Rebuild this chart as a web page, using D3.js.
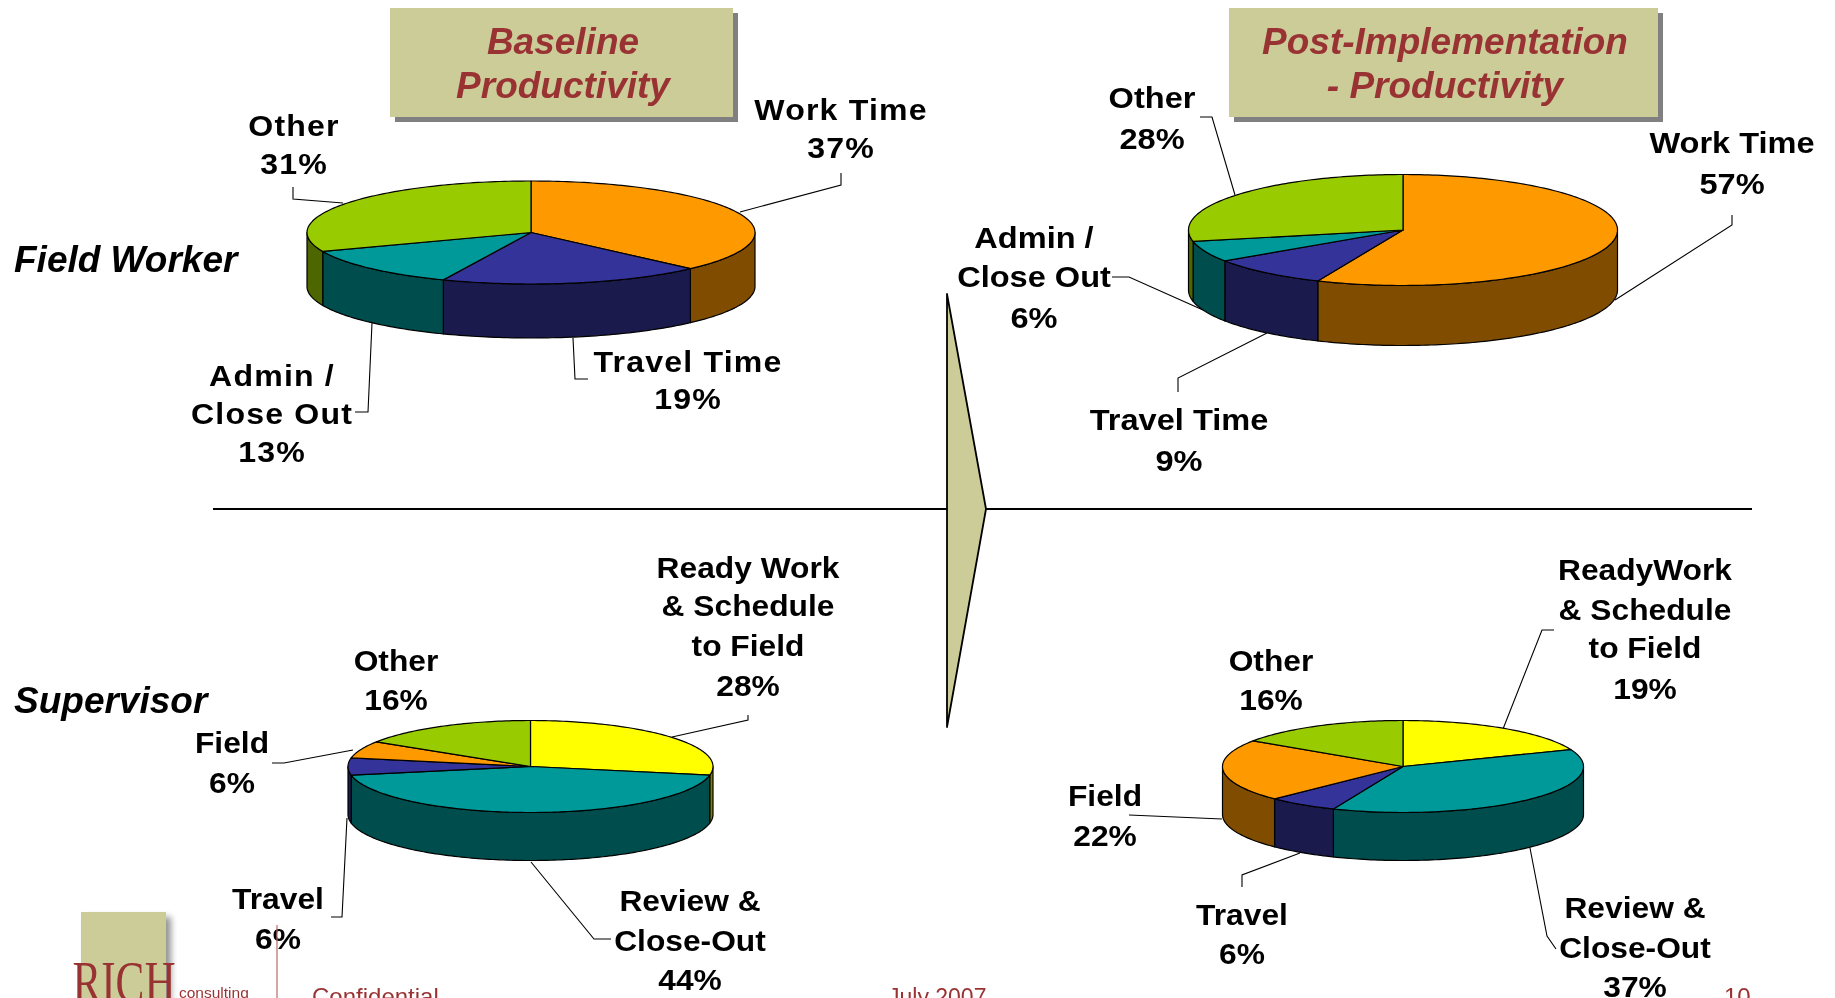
<!DOCTYPE html>
<html><head><meta charset="utf-8">
<script src="https://cdn.jsdelivr.net/npm/d3@7"></script>
<style>html,body{margin:0;padding:0;background:#fff;overflow:hidden}svg{display:block;filter:blur(0.45px)}</style>
</head><body><div id="chart"></div>
<script>
// ---- data ----
const fieldCats = ["Work Time","Travel Time","Admin / Close Out","Other"];
const fieldBaseline = [37.4,19,12.6,31];
const fieldPost = [56.5,9.1,6.1,28.3];
const supCats = ["Ready Work & Schedule to Field","Review & Close-Out","Travel","Field","Other"];
const supBaseline = [28,44,6,6,16];
const supPost = [19,37.3,6.3,21.8,15.6];
const fieldColors = ["#FF9900","#333399","#009999","#99CC00"];
const supColors = ["#FFFF00","#009999","#333399","#FF9900","#99CC00"];
const titleLeft = ["Baseline","Productivity"];
const titleRight = ["Post-Implementation","- Productivity"];
const rowLabels = ["Field Worker","Supervisor"];
const footerTexts = ["Confidential","July 2007","10"];

// ---- layout ----
const W=1835,H=998;
const pies=[
 {vals:fieldBaseline,colors:fieldColors,cx:531,cy:232.5,rx:224,ry:51.5,d:54},
 {vals:fieldPost,colors:fieldColors,cx:1403,cy:230,rx:214.5,ry:55.5,d:60},
 {vals:supBaseline,colors:supColors,cx:530.5,cy:766.5,rx:182.5,ry:46,d:48},
 {vals:supPost,colors:supColors,cx:1403,cy:766.5,rx:180.5,ry:46,d:48}
];
const styleA={f:30,s:1.07,ls:1.1},styleB={f:30,s:1.085,ls:0},styleC={f:29,s:1.095,ls:0};
const labels=[
 {l:["Work Time","37%"],x:841,y:[110,148],k:styleA},
 {l:["Other","31%"],x:294,y:[126,164],k:styleA},
 {l:["Admin /","Close Out","13%"],x:272,y:[376,414,452],k:styleA},
 {l:["Travel Time","19%"],x:688,y:[362,399],k:styleA},
 {l:["Work Time","57%"],x:1732,y:[143,184],k:styleB},
 {l:["Other","28%"],x:1152,y:[98,139],k:styleB},
 {l:["Admin /","Close Out","6%"],x:1034,y:[238,277,318],k:styleB},
 {l:["Travel Time","9%"],x:1179,y:[420,461],k:styleB},
 {l:["Ready Work","& Schedule","to Field","28%"],x:748,y:[568,606,646,686],k:styleC},
 {l:["Other","16%"],x:396,y:[661,700],k:styleC},
 {l:["Field","6%"],x:232,y:[743,783],k:styleC},
 {l:["Travel","6%"],x:278,y:[899,939],k:styleC},
 {l:["Review &","Close-Out","44%"],x:690,y:[901,941,980],k:styleC},
 {l:["ReadyWork","& Schedule","to Field","19%"],x:1645,y:[570,610,648,689],k:styleC},
 {l:["Other","16%"],x:1271,y:[661,700],k:styleC},
 {l:["Field","22%"],x:1105,y:[796,836],k:styleC},
 {l:["Travel","6%"],x:1242,y:[915,954],k:styleC},
 {l:["Review &","Close-Out","37%"],x:1635,y:[908,948,987],k:styleC}
];
const leaders=[
 [[740,212],[841,185],[841,173]],
 [[343,203],[293,199],[293,187]],
 [[573,338],[575,379],[588,379]],
 [[372,323],[368,412],[355,412]],
 [[1235,195],[1212,117],[1200,117]],
 [[1615,300],[1732,225],[1732,215]],
 [[1112,277],[1129,277],[1203,310]],
 [[1267,333],[1178,378],[1178,392]],
 [[672,737],[748,720],[748,715]],
 [[353,750],[284,763],[272,763]],
 [[347,818],[342,917],[331,917]],
 [[531,862],[594,939],[611,939]],
 [[1503,729],[1542,630],[1554,630]],
 [[1222,819],[1129,815]],
 [[1300,853],[1242,875],[1242,887]],
 [[1530,848],[1547,936],[1556,949]]
];
const boxes=[
 {x:390,y:8,w:343,h:109,lines:titleLeft,tx:563},
 {x:1229,y:8,w:429,h:109,lines:titleRight,tx:1445}
];

const svg=d3.select("#chart").append("svg").attr("width",W).attr("height",H).attr("viewBox",[0,0,W,H]);
const defs=svg.append("defs");
defs.append("filter").attr("id","soft").attr("x","-30%").attr("y","-30%").attr("width","160%").attr("height","160%")
  .append("feGaussianBlur").attr("stdDeviation",3);

const bold="'Liberation Sans',Arial,sans-serif";
const lineGen=d3.line();

// separator and arrow
svg.append("line").attr("x1",213).attr("x2",1752).attr("y1",509).attr("y2",509).attr("stroke","#000").attr("stroke-width",1.8);
svg.append("path").attr("d",lineGen([[947,294],[986,509],[947,727]])+"Z")
  .attr("fill","#CCCC99").attr("stroke","#000").attr("stroke-width",1.8).attr("stroke-linejoin","round");

// title boxes
boxes.forEach(b=>{
  svg.append("rect").attr("x",b.x+5).attr("y",b.y+5).attr("width",b.w).attr("height",b.h).attr("fill","#808080");
  svg.append("rect").attr("x",b.x).attr("y",b.y).attr("width",b.w).attr("height",b.h).attr("fill","#CCCC99");
  b.lines.forEach((t,i)=>svg.append("text").attr("x",b.tx).attr("y",54+i*44)
    .attr("text-anchor","middle").attr("font-family",bold).attr("font-weight",700).attr("font-style","italic")
    .attr("font-size",37).attr("fill","#993333").text(t));
});

// row labels
rowLabels.forEach((t,i)=>svg.append("text").attr("x",14).attr("y",[272,713][i])
  .attr("font-family",bold).attr("font-weight",700).attr("font-style","italic").attr("font-size",37).attr("fill","#000").text(t));

// leader lines
svg.append("g").selectAll("path").data(leaders).join("path")
  .attr("d",d=>lineGen(d)).attr("fill","none").attr("stroke","#000").attr("stroke-width",1.1);

// 3D pies
const pieGen=d3.pie().sort(null).value(d=>d);
pies.forEach(p=>{
  const sx=d3.scaleLinear().domain([-1,1]).range([p.cx-p.rx,p.cx+p.rx]);
  const sy=d3.scaleLinear().domain([-1,1]).range([p.cy-p.ry,p.cy+p.ry]);
  const pt=(a,drop=0)=>[sx(Math.sin(a)),sy(-Math.cos(a))+drop];
  const samples=(a0,a1,drop=0)=>{
    const n=Math.max(2,Math.ceil((a1-a0)/0.02));
    return d3.range(n+1).map(i=>pt(a0+(a1-a0)*i/n,drop));
  };
  const shade=c=>{const r=d3.rgb(c);return d3.rgb(r.r/2,r.g/2,r.b/2).formatHex();};
  const arcs=pieGen(p.vals);
  const g=svg.append("g").attr("stroke","#000").attr("stroke-width",1.2).attr("stroke-linejoin","round");
  // side walls: only the front half (from 90° to 270° clockwise) faces the viewer
  arcs.forEach((a,i)=>{
    const a0=Math.max(a.startAngle,Math.PI/2),a1=Math.min(a.endAngle,3*Math.PI/2);
    if(a1<=a0) return;
    const pts=samples(a0,a1,0).concat(samples(a0,a1,p.d).reverse());
    g.append("path").attr("d",lineGen(pts)+"Z").attr("fill",shade(p.colors[i]));
  });
  // top faces
  arcs.forEach((a,i)=>{
    const pts=[[sx(0),sy(0)]].concat(samples(a.startAngle,a.endAngle));
    g.append("path").attr("d",lineGen(pts)+"Z").attr("fill",p.colors[i]);
  });
});

// data labels
labels.forEach(b=>b.l.forEach((t,i)=>{
  svg.append("text").attr("transform",`translate(${b.x},${b.y[i]+9.5}) scale(${b.k.s},1)`)
    .attr("text-anchor","middle").attr("font-family",bold).attr("font-weight",700)
    .attr("font-size",b.k.f).attr("letter-spacing",b.k.ls).attr("fill","#000").text(t);
}));

// footer
svg.append("rect").attr("x",86).attr("y",917).attr("width",85).attr("height",90).attr("fill","#666").attr("opacity",.7).attr("filter","url(#soft)");
svg.append("rect").attr("x",81).attr("y",912).attr("width",85).attr("height",90).attr("fill","#CCCC99");
svg.append("text").attr("transform","translate(124,1002) scale(.72,1)").attr("text-anchor","middle")
  .attr("font-family","'Liberation Serif',serif").attr("font-size",60).attr("fill","#993333").text("RICH");
svg.append("text").attr("x",179).attr("y",998).attr("font-family",bold).attr("font-size",15.5).attr("fill","#993333").text("consulting");
svg.append("line").attr("x1",277).attr("x2",277).attr("y1",925).attr("y2",998).attr("stroke","#B96B6B").attr("stroke-width",1.2);
[[312,24],[888,23],[1724,24]].forEach((x,i)=>svg.append("text").attr("x",x[0]).attr("y",1005)
  .attr("font-family",bold).attr("font-size",x[1]).attr("fill","#993333").text(footerTexts[i]));
</script></body></html>
